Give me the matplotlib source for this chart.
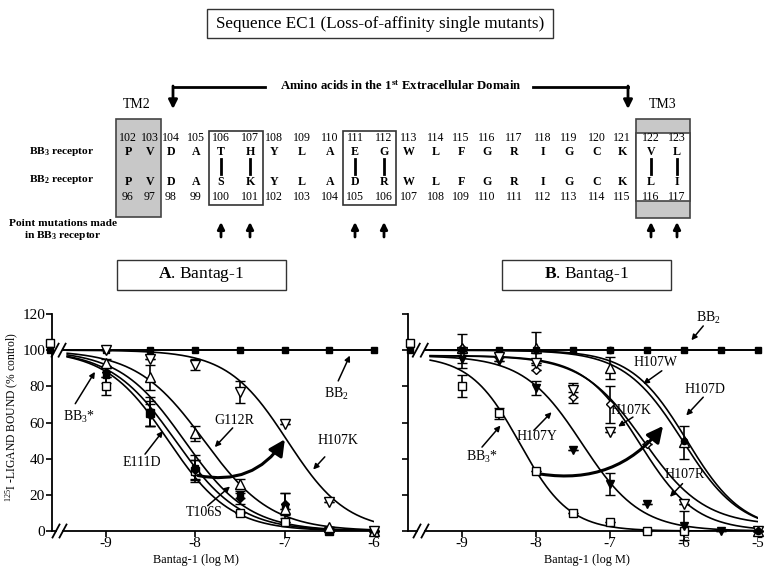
import numpy as np
import matplotlib
matplotlib.use("Agg")
import matplotlib.pyplot as plt
from matplotlib.patches import Rectangle, FancyArrowPatch

plt.rcParams['font.family'] = ['Liberation Serif', 'DejaVu Serif']
plt.rcParams['mathtext.fontset'] = 'custom'
plt.rcParams['mathtext.rm'] = 'Liberation Serif'
plt.rcParams['mathtext.it'] = 'Liberation Serif:italic'
plt.rcParams['mathtext.bf'] = 'Liberation Serif:bold'
plt.rcParams['axes.unicode_minus'] = False

nan = np.nan
# ---------------- sequence data ----------------
bb3_numbers = [102, 103, 104, 105, 106, 107, 108, 109, 110, 111, 112,
               113, 114, 115, 116, 117, 118, 119, 120, 121, 122, 123]
bb3_residues = ['P', 'V', 'D', 'A', 'T', 'H', 'Y', 'L', 'A', 'E', 'G',
                'W', 'L', 'F', 'G', 'R', 'I', 'G', 'C', 'K', 'V', 'L']
bb2_residues = ['P', 'V', 'D', 'A', 'S', 'K', 'Y', 'L', 'A', 'D', 'R',
                'W', 'L', 'F', 'G', 'R', 'I', 'G', 'C', 'K', 'L', 'I']
bb2_numbers = [96, 97, 98, 99, 100, 101, 102, 103, 104, 105, 106,
               107, 108, 109, 110, 111, 112, 113, 114, 115, 116, 117]
mutated_positions = [106, 107, 111, 112, 122, 123]

# ---------------- panel A data ----------------
conc_A = [-9.0, -8.5, -8.0, -7.5, -7.0, -6.5, -6.0]
ctrl_x_A = -9.62
A_bb2 = [100, 100, 100, 100, 100, 100, 100]
A_bb3 = [80, 65, 33, 10, 5, 0, 0]
A_bb3_err = [5, 7, 6, 0, 0, 0, 0]
A_t106s = [86, 66, 35, 20, 14, 0, 0]
A_t106s_err = [4, 8, 7, 2, 7, 0, 0]
A_e111d = [88, 64, 34, 18, 15, 1, 0]
A_e111d_err = [3, 6, 5, 3, 6, 0, 0]
A_g112r = [93, 85, 54, 26, 12, 2, 0]
A_g112r_err = [2, 7, 4, 3, 0, 0, 0]
A_h107k = [100, 95, 92, 77, 59, 16, 0]
A_h107k_err = [0, 0, 3, 6, 0, 0, 0]
A_ctrl = [104, 100]  # BB3*, others
# fitted curves: (logIC50, Hill slope)
A_fit_bb3 = (-8.30, 1.25)
A_fit_t106s = (-8.22, 1.2)
A_fit_e111d = (-8.12, 1.2)
A_fit_g112r = (-7.90, 1.15)
A_fit_h107k = (-6.97, 1.3)

# ---------------- panel B data ----------------
conc_B = [-9.0, -8.5, -8.0, -7.5, -7.0, -6.5, -6.0, -5.5, -5.0]
ctrl_x_B = -9.70
B_bb2 = [100, 100, 100, 100, 100, 100, 100, 100, 100]
B_bb3 = [80, 65, 33, 10, 5, 0, 0, nan, nan]
B_bb3_err = [6, 3, 0, 0, 0, 0, 0, 0, 0]
B_h107y = [95, 94, 79, 45, 26, 15, 3, 0, 0]
B_h107y_err = [5, 0, 4, 0, 6, 0, 8, 0, 0]
B_h107k = [101, nan, 89, 74, 70, 48, nan, nan, 0]
B_h107k_err = [0, 0, 0, 3, 10, 0, 0, 0, 0]
B_h107r = [99, 96, 93, 78, 55, nan, 15, nan, 0]
B_h107r_err = [0, 0, 0, 4, 0, 0, 0, 0, 0]
B_h107w = [101, nan, 101, nan, 90, nan, 49, nan, 0]
B_h107w_err = [8, 0, 9, 0, 6, 0, 9, 0, 0]
B_h107d = [100, nan, 100, nan, 100, nan, 50, nan, 0]
B_ctrl = [104, 100]
# fitted curves: (logIC50, Hill slope, top, bottom)
B_fit_bb3 = (-8.22, 1.3, 97, 0)
B_fit_h107y = (-7.38, 1.1, 97, 0)
B_fit_h107k = (-6.60, 1.15, 97, 0)
B_fit_h107r = (-6.55, 1.05, 97, 3)
B_fit_h107w = (-6.02, 1.1, 100, 0)
B_fit_h107d = (-5.96, 1.15, 100, 0)

# ---------------- figure ----------------
W, H = 773, 585
fig = plt.figure(figsize=(W / 100, H / 100), dpi=100)
ov = fig.add_axes([0, 0, 1, 1])
ov.set_xlim(0, W)
ov.set_ylim(H, 0)
ov.axis('off')

EC = '#333333'
# title box
ov.add_patch(Rectangle((207, 9), 346, 29, fill=False, ec=EC, lw=1))
ov.text(380, 24, 'Sequence EC1 (Loss-of-affinity single mutants)', ha='center', va='center', fontsize=12.3)

# domain bracket arrows
ov.plot([173, 265], [87, 87], color='k', lw=2)
ov.plot([533, 628], [87, 87], color='k', lw=2)
for xa in (173, 628):
    ov.annotate('', xy=(xa, 109), xytext=(xa, 86),
                arrowprops=dict(arrowstyle='-|>', lw=2, color='k', mutation_scale=13, shrinkA=0, shrinkB=0))
ov.text(401, 86, r'Amino acids in the 1$^{\mathbf{st}}$ Extracellular Domain', ha='center', va='center',
        fontsize=9.2, fontweight='bold')
ov.text(137, 104, 'TM2', ha='center', va='center', fontsize=10)
ov.text(663, 104, 'TM3', ha='center', va='center', fontsize=10)

# boxes
ov.add_patch(Rectangle((116, 119), 45, 98, fc='#c8c8c8', ec='#444444', lw=1.2))
ov.add_patch(Rectangle((636, 119), 54, 99, fc='#c8c8c8', ec='#444444', lw=1.2))
ov.add_patch(Rectangle((636, 133), 54, 68, fc='white', ec='#444444', lw=1.2))
ov.add_patch(Rectangle((209, 131), 54, 74, fill=False, ec=EC, lw=1.2))
ov.add_patch(Rectangle((343, 131), 53, 74, fill=False, ec=EC, lw=1.2))

col_x = [128, 150, 171, 196, 221, 250, 274, 302, 330, 355, 384, 409, 436, 461, 487, 514, 543, 569, 597, 622, 651, 677]
for i, cx in enumerate(col_x):
    ov.text(cx, 138, str(bb3_numbers[i]), ha='center', va='center', fontsize=8.6)
    ov.text(cx, 152, bb3_residues[i], ha='center', va='center', fontsize=8.6, fontweight='bold')
    ov.text(cx, 182, bb2_residues[i], ha='center', va='center', fontsize=8.6, fontweight='bold')
    ov.text(cx, 197, str(bb2_numbers[i]), ha='center', va='center', fontsize=8.6)
    if bb3_numbers[i] in mutated_positions:
        ov.plot([cx, cx], [159, 174], color='k', lw=2)
        ov.annotate('', xy=(cx, 222), xytext=(cx, 237),
                    arrowprops=dict(arrowstyle='-|>', lw=2, color='k', mutation_scale=10, shrinkA=0, shrinkB=0))

ov.text(62, 152, r'BB$_{\mathbf{3}}$ receptor', ha='center', va='center', fontsize=8.2, fontweight='bold')
ov.text(62, 179, r'BB$_{\mathbf{2}}$ receptor', ha='center', va='center', fontsize=8.2, fontweight='bold')
ov.text(63, 223, 'Point mutations made', ha='center', va='center', fontsize=8.2, fontweight='bold')
ov.text(63, 236, r'in BB$_{\mathbf{3}}$ receptor', ha='center', va='center', fontsize=8.2, fontweight='bold')

# panel headers
ov.add_patch(Rectangle((117, 260), 169, 30, fill=False, ec=EC, lw=1))
ov.add_patch(Rectangle((502, 260), 169, 30, fill=False, ec=EC, lw=1))
ov.text(201, 275, r'$\mathbf{A}$. Bantag-1', ha='center', va='center', fontsize=12.5)
ov.text(587, 275, r'$\mathbf{B}$. Bantag-1', ha='center', va='center', fontsize=12.5)

# axis labels
ov.text(12, 417, r'$^{125}$I -LIGAND BOUND (% control)', rotation=90, ha='center', va='center', fontsize=8.4)
ov.text(196, 560, 'Bantag-1 (log M)', ha='center', va='center', fontsize=8.8)
ov.text(587, 560, 'Bantag-1 (log M)', ha='center', va='center', fontsize=8.8)

# ---------------- panels ----------------
axA = fig.add_axes([52 / W, 1 - 531 / H, 322 / W, 217 / H])
axB = fig.add_axes([408 / W, 1 - 531 / H, 350 / W, 217 / H])
axA.set_xlim(-9.6, -6.0)
axB.set_xlim(-9.73, -5.0)
gapA = (-9.555, -9.477)
gapB = (-9.608, -9.50)

for ax, xt in ((axA, [-9, -8, -7, -6]), (axB, [-9, -8, -7, -6, -5])):
    ax.set_facecolor('none')
    ax.set_ylim(0, 120)
    ax.set_yticks([0, 20, 40, 60, 80, 100, 120])
    ax.set_xticks(xt)
    ax.set_xticklabels([str(v) for v in xt])
    for s in ('top', 'right', 'bottom'):
        ax.spines[s].set_visible(False)
    ax.spines['left'].set_linewidth(1.3)
    ax.tick_params(direction='out', length=4, width=1.2, labelsize=11, pad=1)
    ax.tick_params(axis='x', pad=0)
axB.tick_params(labelleft=False)


def hill(x, c, h, top=100.0, bottom=0.0):
    return bottom + (top - bottom) / (1 + 10 ** ((x - c) * h))


def to_px(ax, x, y):
    d = ax.transData.transform((x, y))
    return d[0], H - d[1]


def slash_pair(ax, g0, g1, yv):
    for g in (g0, g1):
        px, py = to_px(ax, g, yv)
        ov.plot([px - 3.5, px + 3.5], [py + 6.5, py - 6.5], color='k', lw=1.3)


for ax, gap in ((axA, gapA), (axB, gapB)):
    xl = ax.get_xlim()
    tr = ax.get_xaxis_transform()
    ax.plot([xl[0], gap[0]], [0, 0], transform=tr, color='k', lw=1.3, clip_on=False)
    ax.plot([gap[1], xl[1]], [0, 0], transform=tr, color='k', lw=1.3, clip_on=False)
    slash_pair(ax, gap[0], gap[1], 0)
    slash_pair(ax, gap[0] - 0.01, gap[1] - 0.01, 100)


def series(ax, x, y, err, marker, filled, ms=5, z=5):
    mfc = 'black' if filled else 'white'
    yerr = None if err is None else np.array(err, dtype=float)
    ax.errorbar(x, y, yerr=yerr, fmt=marker, ms=ms, mfc=mfc, mec='black', mew=1, ecolor='black',
                elinewidth=1.2, capsize=3.5, capthick=1.2, clip_on=False, zorder=z, ls='none')


# ---- panel A ----
xs = np.linspace(-9.43, -6.0, 300)
for c, h in (A_fit_bb3, A_fit_t106s, A_fit_e111d, A_fit_g112r, A_fit_h107k):
    axA.plot(xs, hill(xs, c, h), color='black', lw=1.2, zorder=3)
axA.plot([gapA[1]] + conc_A, [A_bb2[0]] + A_bb2, color='black', lw=1.4, zorder=3)
series(axA, conc_A, A_bb2, None, 's', True, ms=4.5)
series(axA, conc_A, A_bb3, A_bb3_err, 's', False, ms=5.8)
series(axA, conc_A, A_t106s, A_t106s_err, 's', True, ms=4.5)
series(axA, conc_A, A_e111d, A_e111d_err, 'D', True, ms=3.8)
series(axA, conc_A, A_g112r, A_g112r_err, '^', False, ms=6.5)
series(axA, conc_A, A_h107k, A_h107k_err, 'v', False, ms=6.5)
series(axA, [ctrl_x_A], [A_ctrl[0]], None, 's', False, ms=5.8)
series(axA, [ctrl_x_A], [A_ctrl[1]], None, 's', True, ms=5)

axA.add_patch(FancyArrowPatch((-8.0, 31), (-6.98, 52), connectionstyle='arc3,rad=0.35',
                              arrowstyle='-|>', mutation_scale=24, lw=2.2, color='black', zorder=6))

def note(ax, text, tpos, tail, tip):
    ax.text(tpos[0], tpos[1], text, ha='center', va='center', fontsize=10)
    ax.annotate('', xy=tip, xytext=tail,
                arrowprops=dict(arrowstyle='-|>', lw=1.1, color='black', mutation_scale=8, shrinkA=0, shrinkB=0))

note(axA, r'BB$_2$', (-6.42, 76), (-6.40, 83), (-6.27, 97))
note(axA, 'G112R', (-7.56, 61), (-7.58, 57), (-7.78, 46.4))
note(axA, 'H107K', (-6.40, 50), (-6.55, 41), (-6.68, 34))
note(axA, 'E111D', (-8.60, 38), (-8.56, 42.5), (-8.36, 55.3))
note(axA, 'T106S', (-7.90, 10), (-7.86, 14), (-7.61, 24.6))
note(axA, r'BB$_3$*', (-9.30, 63), (-9.34, 70.4), (-9.12, 88))

# ---- panel B ----
xs = np.linspace(-9.43, -5.0, 300)
for c, h, top, bot in (B_fit_bb3, B_fit_h107y, B_fit_h107k, B_fit_h107r, B_fit_h107w, B_fit_h107d):
    axB.plot(xs, hill(xs, c, h, top, bot), color='black', lw=1.2, zorder=3)
axB.plot([gapB[1]] + conc_B, [B_bb2[0]] + B_bb2, color='black', lw=1.4, zorder=3)
series(axB, conc_B, B_bb2, None, 's', True, ms=4.5)
series(axB, conc_B, B_bb3, B_bb3_err, 's', False, ms=5.8)
series(axB, conc_B, B_h107y, B_h107y_err, 'v', True, ms=5.5)
series(axB, conc_B, B_h107k, B_h107k_err, 'D', False, ms=4.5)
series(axB, conc_B, B_h107r, B_h107r_err, 'v', False, ms=6.5)
series(axB, conc_B, B_h107w, B_h107w_err, '^', False, ms=6.5)
series(axB, conc_B, B_h107d, None, 'o', True, ms=4.5)
series(axB, [ctrl_x_B], [B_ctrl[0]], None, 's', False, ms=5.8)
series(axB, [ctrl_x_B], [B_ctrl[1]], None, 's', True, ms=5)

axB.add_patch(FancyArrowPatch((-7.97, 31.7), (-6.26, 59.3), connectionstyle='arc3,rad=0.3',
                              arrowstyle='-|>', mutation_scale=24, lw=2.2, color='black', zorder=6))

note(axB, r'BB$_2$', (-5.67, 118), (-5.74, 113.4), (-5.90, 105.5))
note(axB, 'H107W', (-6.39, 93), (-6.30, 88.6), (-6.55, 81.3))
note(axB, 'H107D', (-5.72, 78.5), (-5.74, 74), (-5.97, 63.9))
note(axB, 'H107K', (-6.71, 66.6), (-6.69, 63), (-6.89, 57.8))
note(axB, 'H107R', (-5.99, 31), (-6.02, 26.2), (-6.19, 18.9))
note(axB, 'H107Y', (-7.99, 52), (-8.03, 55.6), (-7.79, 65.7))
note(axB, r'BB$_3$*', (-8.73, 41), (-8.73, 46.4), (-8.48, 58.3))

fig.savefig('out.png', dpi=100)
